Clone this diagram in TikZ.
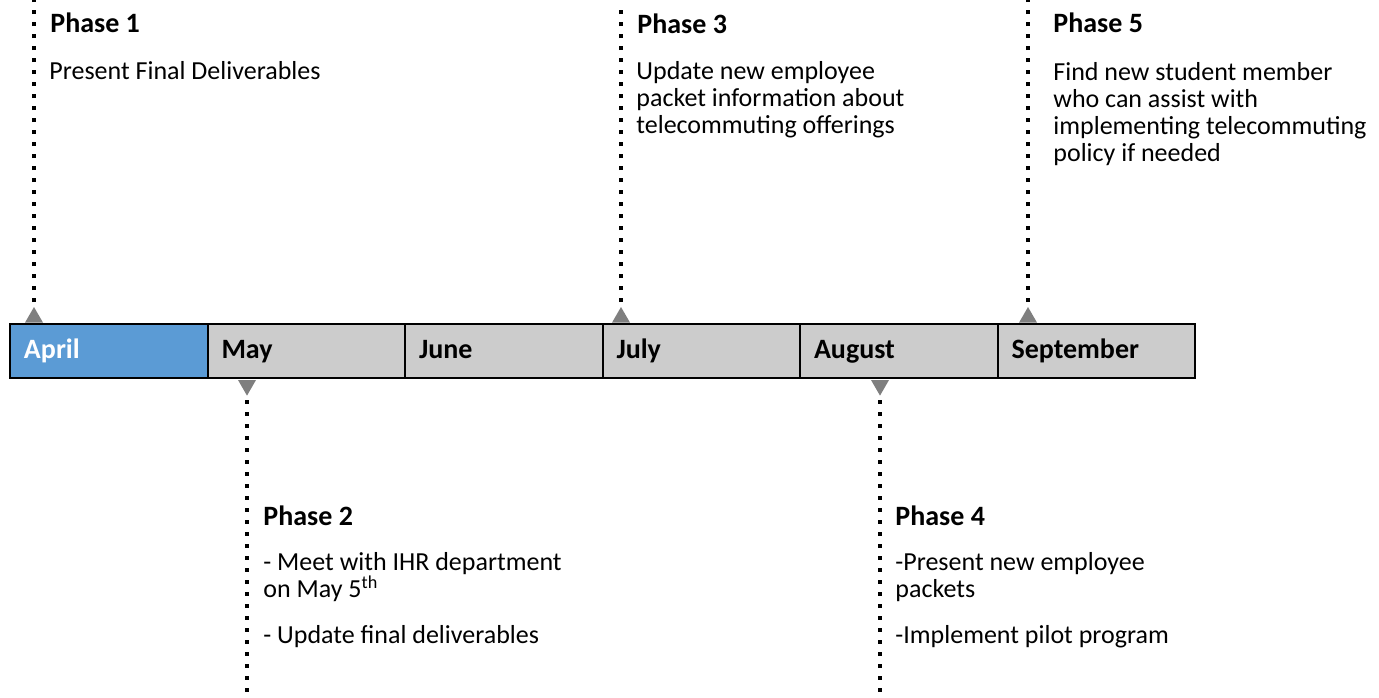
\documentclass[tikz,border=0pt]{standalone}
\usepackage{fontspec}
\setmainfont{Carlito}
\usetikzlibrary{positioning,shapes}
\definecolor{aprilblue}{HTML}{5B9BD5}
\definecolor{monthgray}{HTML}{CCCCCC}
\definecolor{markgray}{HTML}{7F7F7F}

\begin{document}
\begin{tikzpicture}[x=0.5pt,y=-0.5pt,
    month/.style={draw,line width=1pt,fill=monthgray,outer sep=0pt,
        minimum width=98.75pt,minimum height=27pt,inner xsep=7pt,
        text width=84.75pt,align=left,text height=10pt,text depth=3pt,
        font=\fontsize{14pt}{16pt}\selectfont\bfseries},
    phase/.style={anchor=base west,inner sep=0pt,font=\fontsize{14pt}{16pt}\selectfont\bfseries},
    info/.style={anchor=base west,inner sep=0pt,align=left,font=\fontsize{13pt}{13.5pt}\selectfont},
    tick/.style={regular polygon,regular polygon sides=3,fill=markgray,inner sep=0pt,minimum size=10.4pt},
    lead/.style={line width=2pt,dash pattern=on 2pt off 4pt,shorten <=2pt}]
        \useasboundingbox (0,0) rectangle (1379,697);

        % month bar
        \node[month,fill=aprilblue,text=white,anchor=north west] (apr) at (10,324) {April};
        \node[month,right=0pt of apr] (may) {May};
        \node[month,right=0pt of may] (jun) {June};
        \node[month,right=0pt of jun] (jul) {July};
        \node[month,right=0pt of jul] (aug) {August};
        \node[month,right=0pt of aug] (sep) {September};

        % markers above and below the bar
        \node[tick] (u1) at (34,317.4) {};
        \node[tick] (u3) at (621,317.4) {};
        \node[tick] (u5) at (1028,317.4) {};
        \node[tick,shape border rotate=180] (d2) at (247,385.2) {};
        \node[tick,shape border rotate=180] (d4) at (880,385.2) {};

        \coordinate (e1) at (34,0);
        \coordinate (e3) at (621,10);
        \coordinate (e5) at (1028,0);
        \coordinate (e2) at (247,697);
        \coordinate (e4) at (880,697);

        \foreach \t / \e in {u1/e1,u3/e3,u5/e5,d2/e2,d4/e4}
            \draw[lead] (\t.corner 1) -- (\e);

        % phases (info nodes sit on the baseline of their last line)
        \node[phase] (p1) at (50,32) {Phase 1};
        \node[info] (i1) at (49,79) {Present Final Deliverables};
        \node[phase] (p3) at (637,33) {Phase 3};
        \node[info] (i3) at (636,133) {Update new employee\\packet information about\\telecommuting offerings};
        \node[phase] (p5) at (1053,32) {Phase 5};
        \node[info] (i5) at (1053,161) {Find new student member\\who can assist with\\implementing telecommuting\\policy if needed};
        \node[phase] (p2) at (263,525) {Phase 2};
        \node[info] (i2) at (263,643) {- Meet with IHR department\\on May 5\textsuperscript{th}\\[9.5pt]- Update final deliverables};
        \node[phase] (p4) at (895,525) {Phase 4};
        \node[info] (i4) at (895,643) {-Present new employee\\packets\\[9.5pt]-Implement pilot program};
    \end{tikzpicture}
\end{document}
